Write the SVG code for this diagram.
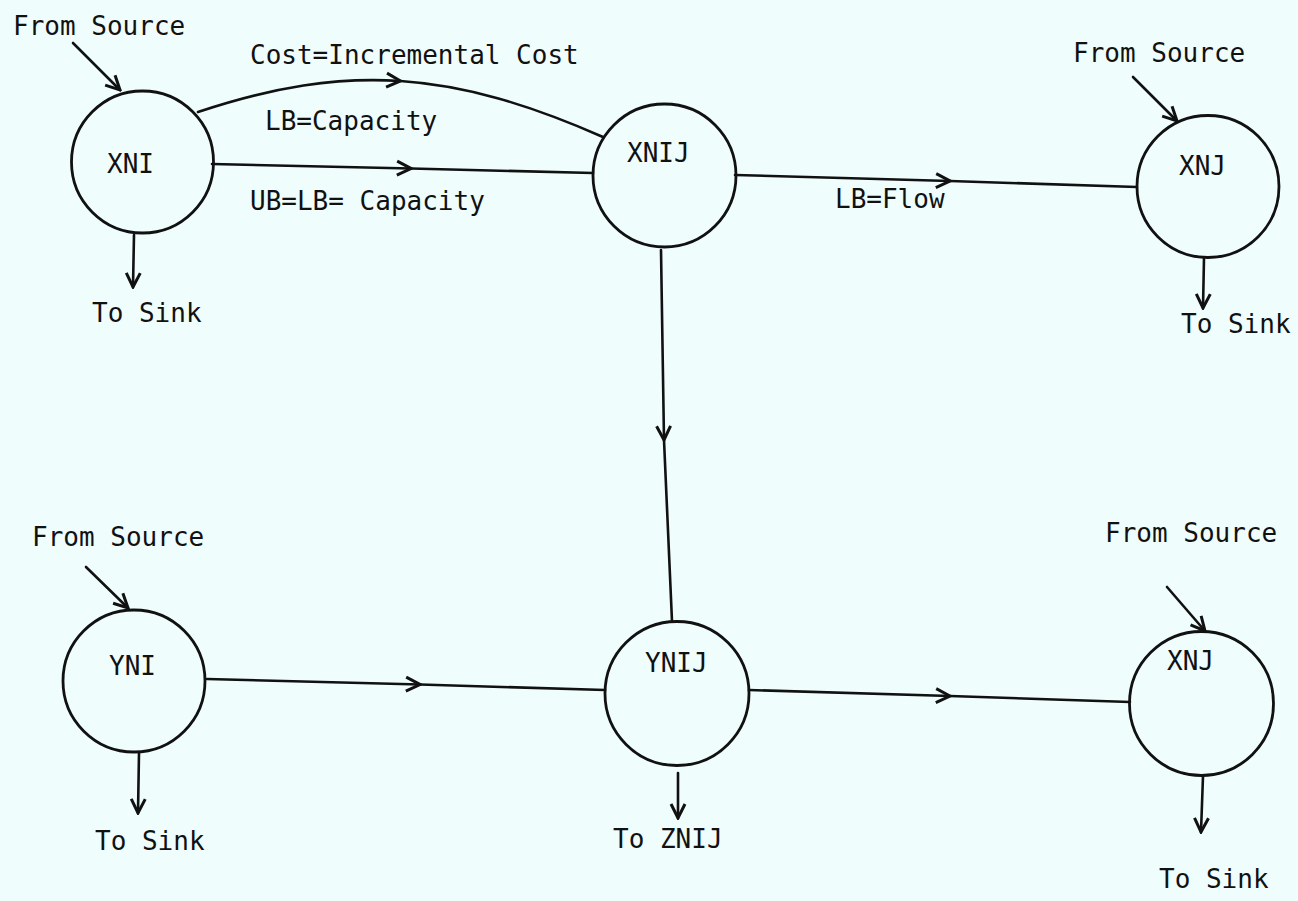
<svg xmlns="http://www.w3.org/2000/svg" width="1298" height="901" viewBox="0 0 1298 901">
  <style>
    .bg { fill: #effdfd; }
    .node { fill: none; stroke: #111; stroke-width: 2.8; }
    .edge { fill: none; stroke: #111; stroke-width: 2.6; stroke-linecap: round; }
    .lbl { font-family: "DejaVu Sans Mono", "Liberation Mono", monospace; font-size: 26px; fill: #111; }
  </style>
  <defs>
    <marker id="arr" viewBox="-17 -10 19 20" refX="0" refY="0" markerWidth="19" markerHeight="20" markerUnits="userSpaceOnUse" orient="auto">
      <path d="M-14,-7 L0,0 L-14,7" fill="none" stroke="#111" stroke-width="3" stroke-linejoin="miter"/>
    </marker>
  </defs>

  <rect class="bg" x="0" y="0" width="1298" height="901"/>

  <!-- connectors -->
  <g id="connectors">
    <!-- XNI to XNIJ, curved (cost arc) -->
    <path class="edge" d="M198,112 C273,87 336.75,76.75 400.5,81 C464.25,85.25 528,104 603,137" marker-mid="url(#arr)"/>
    <!-- XNI to XNIJ, straight -->
    <path class="edge" d="M212,164 L411,168.5 L593,173" marker-mid="url(#arr)"/>
    <!-- XNIJ to XNJ -->
    <path class="edge" d="M735,175 L950,181 L1137,187" marker-mid="url(#arr)"/>
    <!-- XNIJ down to YNIJ -->
    <path class="edge" d="M661,250 L664,440 L672,621" marker-mid="url(#arr)"/>
    <!-- YNI to YNIJ -->
    <path class="edge" d="M207,679 L420,684.5 L605,690" marker-mid="url(#arr)"/>
    <!-- YNIJ to lower XNJ -->
    <path class="edge" d="M749,690 L950,696 L1130,702" marker-mid="url(#arr)"/>

    <!-- source inflows -->
    <path class="edge" d="M73,43 L120,90" marker-end="url(#arr)"/>
    <path class="edge" d="M1133,77 L1177,121" marker-end="url(#arr)"/>
    <path class="edge" d="M86,567 L128,608" marker-end="url(#arr)"/>
    <path class="edge" d="M1167,587 L1205,631" marker-end="url(#arr)"/>

    <!-- sink outflows -->
    <path class="edge" d="M134,235 L133,287" marker-end="url(#arr)"/>
    <path class="edge" d="M1204,258 L1203,308" marker-end="url(#arr)"/>
    <path class="edge" d="M139,753 L138,813" marker-end="url(#arr)"/>
    <path class="edge" d="M678,773 L678,818" marker-end="url(#arr)"/>
    <path class="edge" d="M1203,776 L1201,832" marker-end="url(#arr)"/>
  </g>

  <!-- arc labels -->
  <g id="edge-labels">
    <text class="lbl" x="250" y="64">Cost=Incremental Cost</text>
    <text class="lbl" x="265" y="130">LB=Capacity</text>
    <text class="lbl" x="250" y="210">UB=LB= Capacity</text>
    <text class="lbl" x="835" y="208">LB=Flow</text>
  </g>

  <g id="node-XNI">
    <circle class="node" cx="142.5" cy="162" r="71"/>
    <text class="lbl" x="107" y="173">XNI</text>
    <text class="lbl" x="13" y="35">From Source</text>
    <text class="lbl" x="92" y="322">To Sink</text>
  </g>

  <g id="node-XNIJ">
    <circle class="node" cx="664.5" cy="175.5" r="71.5"/>
    <text class="lbl" x="627" y="162">XNIJ</text>
  </g>

  <g id="node-XNJ-upper">
    <circle class="node" cx="1208" cy="186.5" r="71"/>
    <text class="lbl" x="1179" y="175">XNJ</text>
    <text class="lbl" x="1073" y="62">From Source</text>
    <text class="lbl" x="1181" y="333">To Sink</text>
  </g>

  <g id="node-YNI">
    <circle class="node" cx="134" cy="681" r="71"/>
    <text class="lbl" x="109" y="675">YNI</text>
    <text class="lbl" x="32" y="546">From Source</text>
    <text class="lbl" x="95" y="850">To Sink</text>
  </g>

  <g id="node-YNIJ">
    <circle class="node" cx="677" cy="693.5" r="72"/>
    <text class="lbl" x="645" y="672">YNIJ</text>
    <text class="lbl" x="613" y="848">To ZNIJ</text>
  </g>

  <g id="node-XNJ-lower">
    <circle class="node" cx="1201.5" cy="703.5" r="72"/>
    <text class="lbl" x="1167" y="670">XNJ</text>
    <text class="lbl" x="1105" y="542">From Source</text>
    <text class="lbl" x="1159" y="888">To Sink</text>
  </g>
</svg>
